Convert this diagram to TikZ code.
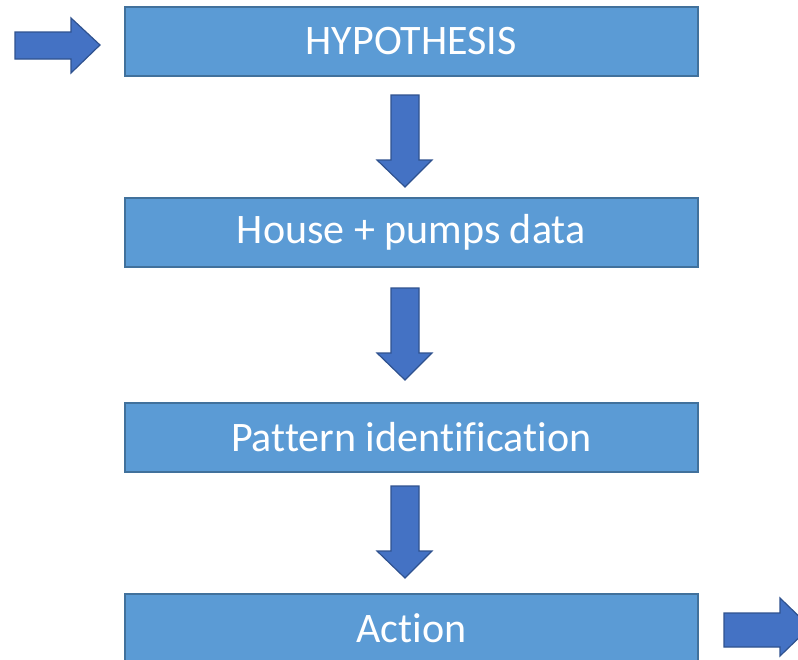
\documentclass[tikz,border=0pt]{standalone}
\usepackage{fontspec}
\setmainfont[Ligatures=NoCommon]{Carlito}
\definecolor{boxfill}{HTML}{5B9BD5}
\definecolor{boxline}{HTML}{41719C}
\definecolor{arrfill}{HTML}{4472C4}
\definecolor{arrline}{HTML}{2F528F}
\begin{document}
\begin{tikzpicture}[x=1pt,y=-1pt,
  stepbox/.style={draw=boxline,fill=boxfill,line width=1.5pt,minimum width=573pt,minimum height=69pt,inner sep=0pt,text=white,font=\fontsize{42}{48}\selectfont,anchor=north west},
  blockarrow/.style={draw=arrline,fill=arrfill,line width=1.2pt,line join=miter}]
\useasboundingbox (0,0) rectangle (798,659);
\node[stepbox] (h) at (124,6) {HYPOTHESIS};
\node[stepbox] (d) at (124,197) {House + pumps data};
\node[stepbox] (p) at (124,402) {Pattern identification};
\node[stepbox] (a) at (124,593) {Action};
% left arrow
\draw[blockarrow] (15,32) -- (71,32) -- (71,18) -- (100,45) -- (71,73) -- (71,59) -- (15,59) -- cycle;
% down arrows
\foreach \t/\n in {95/1,288/2,486/3}{
  \draw[blockarrow] (391,\t) -- (419,\t) -- (419,\t+65) -- (432,\t+65) -- (405,\t+92) -- (377,\t+65) -- (391,\t+65) -- cycle;
}
% right arrow
\draw[blockarrow] (724,613) -- (780,613) -- (780,598) -- (810,627) -- (780,656) -- (780,647) -- (724,647) -- cycle;
\end{tikzpicture}
\end{document}
